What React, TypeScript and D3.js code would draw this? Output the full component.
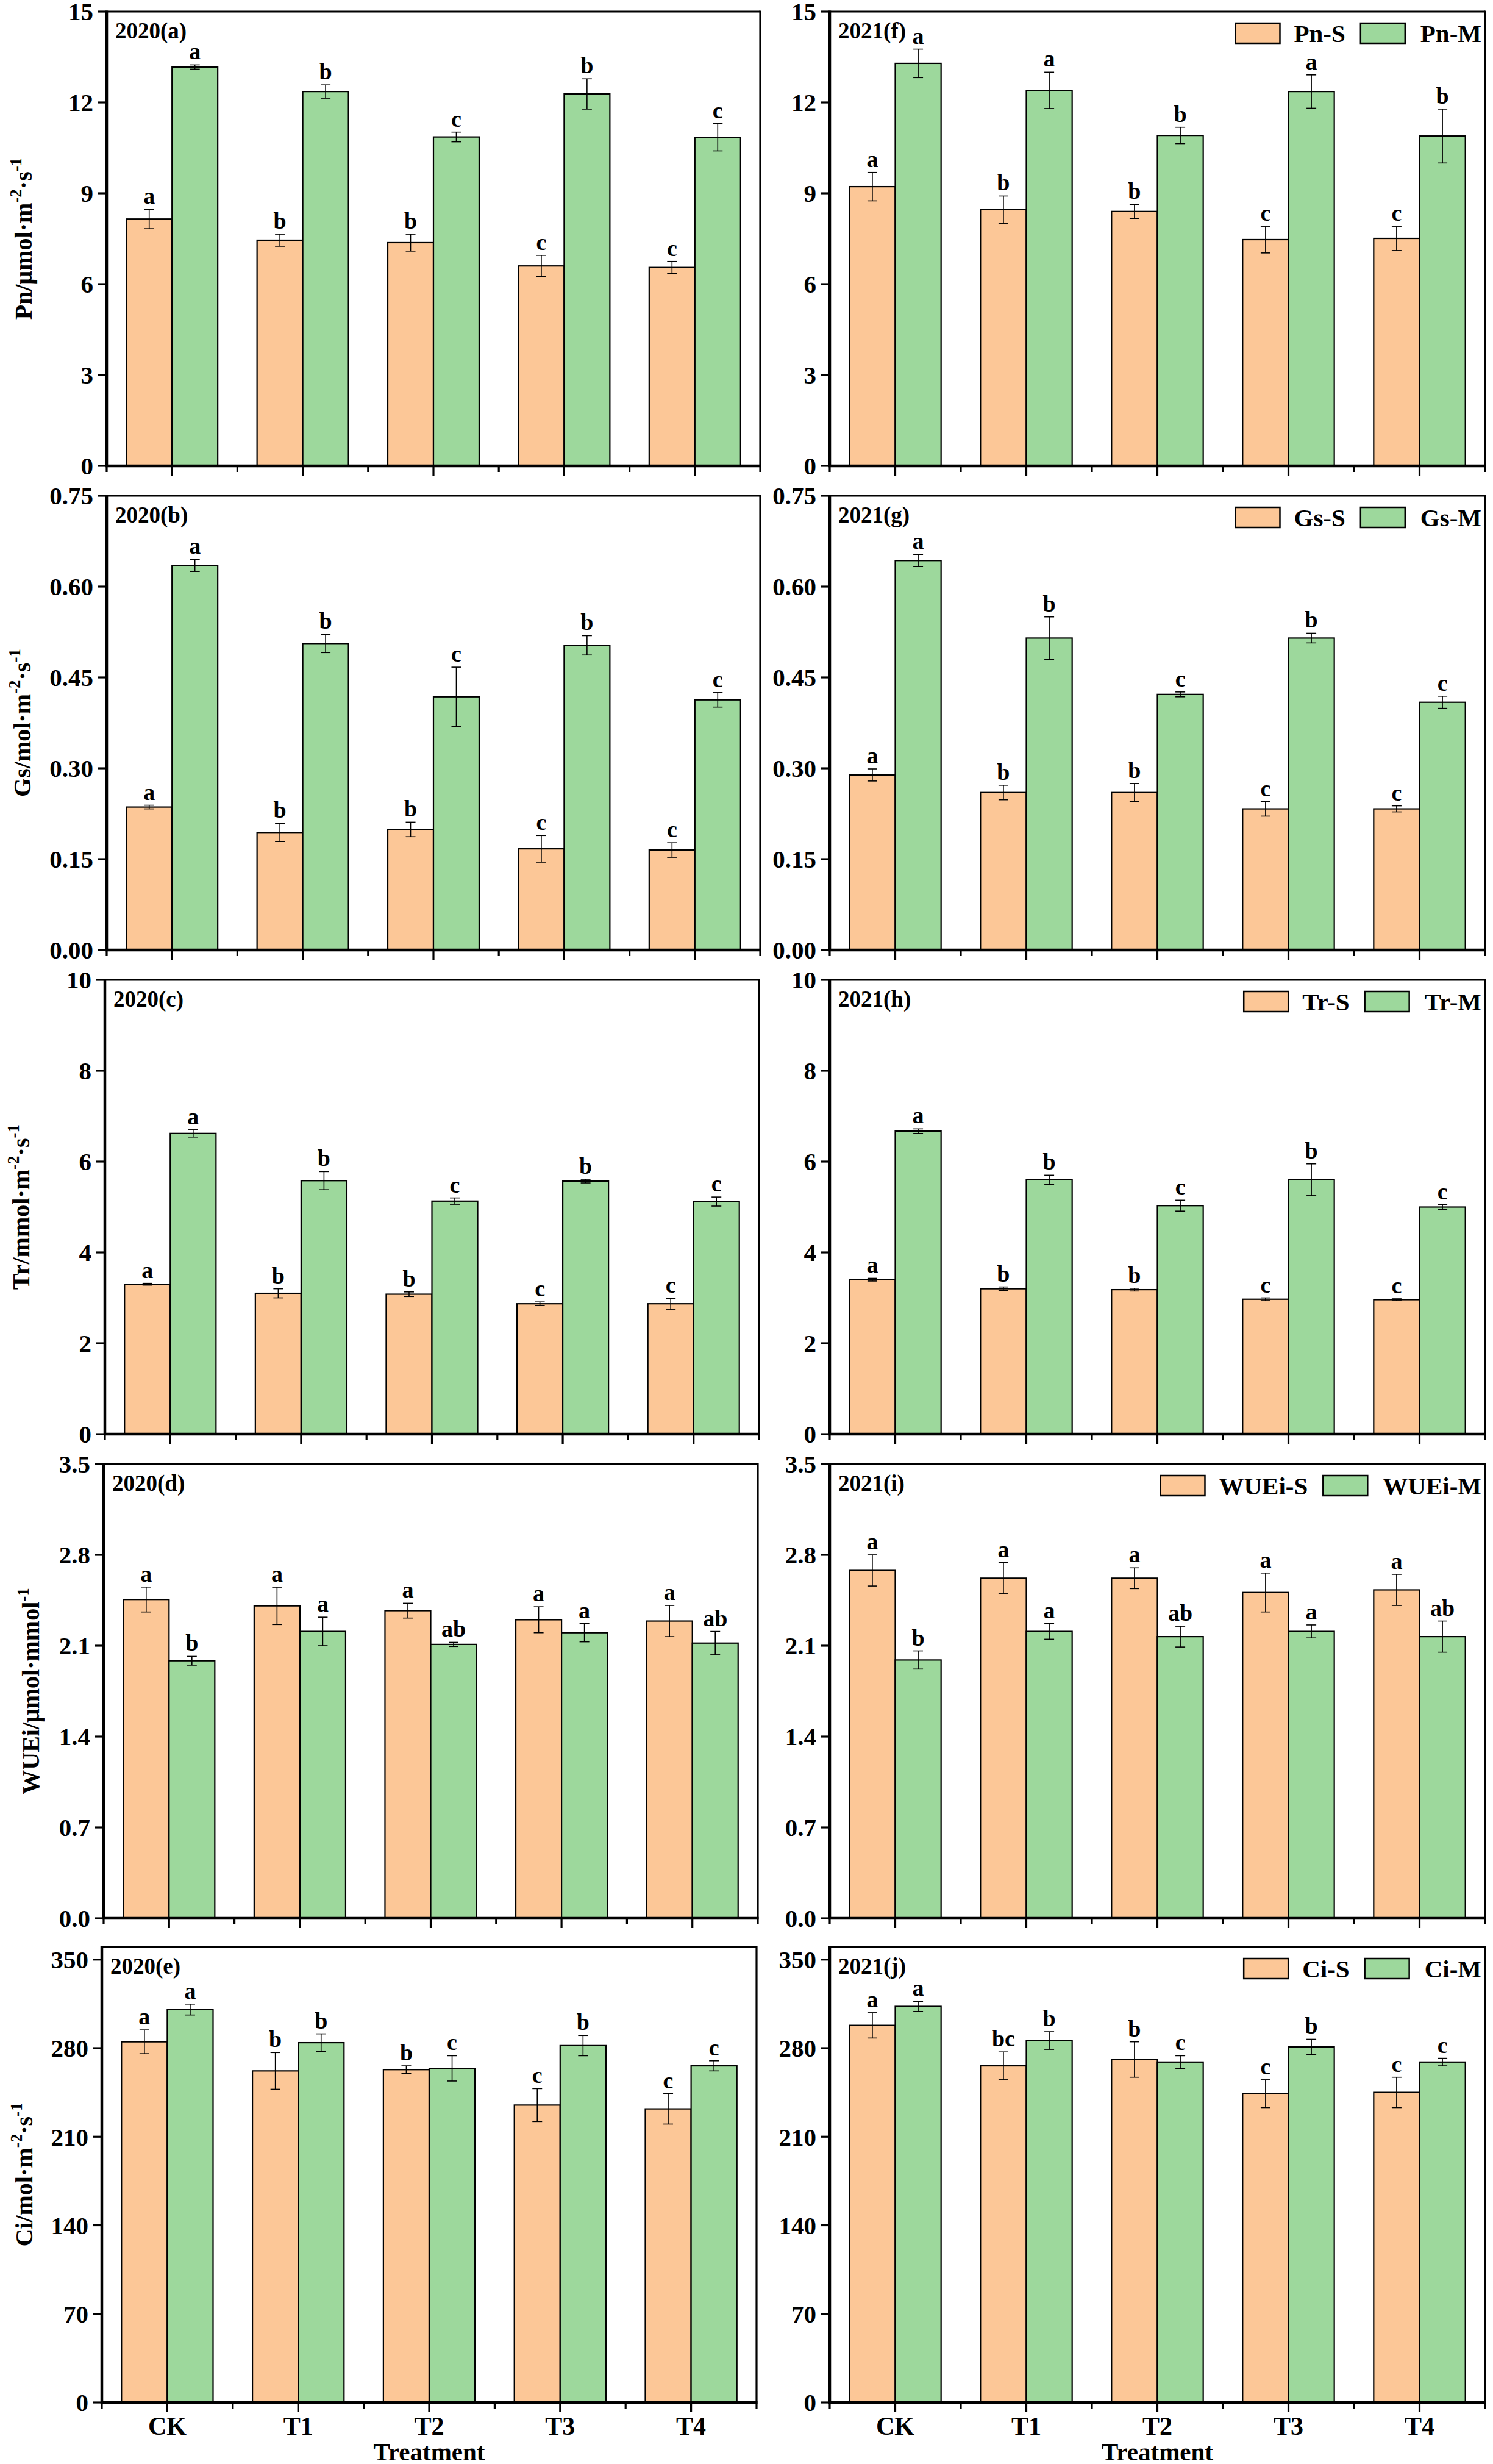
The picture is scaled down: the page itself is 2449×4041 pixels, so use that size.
import React, { useRef, useEffect } from "react"
import * as d3 from "d3"

const treatments = ["CK", "T1", "T2", "T3", "T4"]

// Pn (μmol·m-2·s-1)
const pn20S = [8.15, 7.45, 7.37, 6.6, 6.55]
const pn20SErr = [0.32, 0.2, 0.28, 0.35, 0.2]
const pn20M = [13.17, 12.36, 10.86, 12.28, 10.85]
const pn20MErr = [0.07, 0.22, 0.16, 0.5, 0.45]
const pn21S = [9.22, 8.46, 8.4, 7.47, 7.51]
const pn21SErr = [0.47, 0.45, 0.23, 0.44, 0.4]
const pn21M = [13.29, 12.4, 10.91, 12.36, 10.89]
const pn21MErr = [0.47, 0.6, 0.27, 0.55, 0.89]
const pn20SLet = ["a", "b", "b", "c", "c"]
const pn20MLet = ["a", "b", "c", "b", "c"]
const pn21SLet = ["a", "b", "b", "c", "c"]
const pn21MLet = ["a", "a", "b", "a", "b"]

// Gs (mol·m-2·s-1)
const gs20S = [0.236, 0.194, 0.199, 0.167, 0.165]
const gs20SErr = [0.003, 0.015, 0.012, 0.022, 0.012]
const gs20M = [0.635, 0.506, 0.418, 0.503, 0.413]
const gs20MErr = [0.01, 0.015, 0.049, 0.016, 0.012]
const gs21S = [0.289, 0.26, 0.26, 0.233, 0.233]
const gs21SErr = [0.01, 0.012, 0.015, 0.012, 0.005]
const gs21M = [0.643, 0.515, 0.422, 0.515, 0.409]
const gs21MErr = [0.01, 0.035, 0.004, 0.008, 0.01]
const gsSLet = ["a", "b", "b", "c", "c"]
const gsMLet = ["a", "b", "c", "b", "c"]

// Tr (mmol·m-2·s-1)
const tr20S = [3.3, 3.1, 3.08, 2.87, 2.87]
const tr20SErr = [0.02, 0.1, 0.05, 0.04, 0.12]
const tr20M = [6.62, 5.58, 5.13, 5.57, 5.12]
const tr20MErr = [0.08, 0.2, 0.07, 0.04, 0.1]
const tr21S = [3.4, 3.2, 3.18, 2.97, 2.96]
const tr21SErr = [0.03, 0.04, 0.03, 0.03, 0.02]
const tr21M = [6.67, 5.6, 5.03, 5.6, 5.0]
const tr21MErr = [0.05, 0.1, 0.12, 0.35, 0.05]
const trSLet = ["a", "b", "b", "c", "c"]
const trMLet = ["a", "b", "c", "b", "c"]

// WUEi (μmol·mmol-1)
const wue20S = [2.456, 2.407, 2.37, 2.3, 2.29]
const wue20SErr = [0.096, 0.144, 0.057, 0.1, 0.12]
const wue20M = [1.984, 2.21, 2.11, 2.2, 2.12]
const wue20MErr = [0.034, 0.11, 0.016, 0.07, 0.09]
const wue21S = [2.68, 2.62, 2.62, 2.51, 2.53]
const wue21SErr = [0.12, 0.12, 0.08, 0.15, 0.12]
const wue21M = [1.99, 2.21, 2.17, 2.21, 2.17]
const wue21MErr = [0.07, 0.06, 0.08, 0.05, 0.12]
const wueSLet = ["a", "a", "a", "a", "a"]
const wueMLet = ["b", "a", "ab", "a", "ab"]

// Ci
const ci20S = [285, 262, 263, 235, 232]
const ci20SErr = [9.4, 14.5, 3, 13, 12]
const ci20M = [310.5, 284.3, 264, 282, 266]
const ci20MErr = [4.3, 7, 10, 8, 4]
const ci21S = [298, 266, 271, 244, 245]
const ci21SErr = [10, 11, 14, 11, 12]
const ci21M = [313, 286, 269, 281, 269]
const ci21MErr = [4, 7, 5, 6, 3]
const ci20SLet = ["a", "b", "b", "c", "c"]
const ci21SLet = ["a", "bc", "b", "c", "c"]
const ciMLet = ["a", "b", "c", "b", "c"]

const pnTicks = [0, 3, 6, 9, 12, 15]
const gsTicks = [0, 0.15, 0.3, 0.45, 0.6, 0.75]
const trTicks = [0, 2, 4, 6, 8, 10]
const wueTicks = [0, 0.7, 1.4, 2.1, 2.8, 3.5]
const ciTicks = [0, 70, 140, 210, 280, 350]

const rowMax = [15, 0.75, 10, 3.5, 360]
const rowTicks = [pnTicks, gsTicks, trTicks, wueTicks, ciTicks]
const rowFmt = [d3.format("d"), d3.format(".2f"), d3.format("d"), d3.format(".1f"), d3.format("d")]
const rowTitle: [string, boolean][][] = [
  [["Pn/μmol·m", false], ["-2", true], ["·s", false], ["-1", true]],
  [["Gs/mol·m", false], ["-2", true], ["·s", false], ["-1", true]],
  [["Tr/mmol·m", false], ["-2", true], ["·s", false], ["-1", true]],
  [["WUEi/μmol·mmol", false], ["-1", true]],
  [["Ci/mol·m", false], ["-2", true], ["·s", false], ["-1", true]],
]
const rowLegend = [
  ["Pn-S", "Pn-M"],
  ["Gs-S", "Gs-M"],
  ["Tr-S", "Tr-M"],
  ["WUEi-S", "WUEi-M"],
  ["Ci-S", "Ci-M"],
]

type Panel = {
  row: number
  col: number
  label: string
  s: number[]
  sErr: number[]
  m: number[]
  mErr: number[]
  sLet: string[]
  mLet: string[]
}

const panels: Panel[] = [
  { row: 0, col: 0, label: "2020(a)", s: pn20S, sErr: pn20SErr, m: pn20M, mErr: pn20MErr, sLet: pn20SLet, mLet: pn20MLet },
  { row: 0, col: 1, label: "2021(f)", s: pn21S, sErr: pn21SErr, m: pn21M, mErr: pn21MErr, sLet: pn21SLet, mLet: pn21MLet },
  { row: 1, col: 0, label: "2020(b)", s: gs20S, sErr: gs20SErr, m: gs20M, mErr: gs20MErr, sLet: gsSLet, mLet: gsMLet },
  { row: 1, col: 1, label: "2021(g)", s: gs21S, sErr: gs21SErr, m: gs21M, mErr: gs21MErr, sLet: gsSLet, mLet: gsMLet },
  { row: 2, col: 0, label: "2020(c)", s: tr20S, sErr: tr20SErr, m: tr20M, mErr: tr20MErr, sLet: trSLet, mLet: trMLet },
  { row: 2, col: 1, label: "2021(h)", s: tr21S, sErr: tr21SErr, m: tr21M, mErr: tr21MErr, sLet: trSLet, mLet: trMLet },
  { row: 3, col: 0, label: "2020(d)", s: wue20S, sErr: wue20SErr, m: wue20M, mErr: wue20MErr, sLet: wueSLet, mLet: wueMLet },
  { row: 3, col: 1, label: "2021(i)", s: wue21S, sErr: wue21SErr, m: wue21M, mErr: wue21MErr, sLet: wueSLet, mLet: wueMLet },
  { row: 4, col: 0, label: "2020(e)", s: ci20S, sErr: ci20SErr, m: ci20M, mErr: ci20MErr, sLet: ci20SLet, mLet: ciMLet },
  { row: 4, col: 1, label: "2021(j)", s: ci21S, sErr: ci21SErr, m: ci21M, mErr: ci21MErr, sLet: ci21SLet, mLet: ciMLet },
]

const W = 2449
const H = 4041
const FONT = "'Liberation Serif', 'Times New Roman', serif"
const ORANGE = "#FCC797"
const GREEN = "#9DD89C"

// layout per row / column
const rowTop = [19, 813, 1607, 2401, 3193]
const rowBottom = [764, 1558, 2352, 3146, 3940]
const leftX0 = [175, 175, 172, 170, 167]
const leftX1 = [1247, 1247, 1245, 1243, 1241]
const rightX0 = [1361, 1361, 1361, 1361, 1361]
const rightX1 = [2436, 2436, 2436, 2436, 2436]
const titleX = [52, 50, 48, 64, 53]

const App: React.FC = () => {
  const svgRef = useRef<SVGSVGElement>(null)

  useEffect(() => {
    if (!svgRef.current) return
    const svg = d3.select(svgRef.current)
    svg.selectAll("*").remove()
    svg.append("rect").attr("width", W).attr("height", H).attr("fill", "white")

    panels.forEach((p) => {
      const r = p.row
      const x0 = p.col === 0 ? leftX0[r] : rightX0[r]
      const x1 = p.col === 0 ? leftX1[r] : rightX1[r]
      const top = rowTop[r]
      const bottom = rowBottom[r]

      const x = d3.scaleBand().domain(treatments).range([x0, x1]).padding(0)
      const sub = d3
        .scaleBand()
        .domain(["S", "M"])
        .range([0, x.bandwidth()])
        .paddingInner(0)
        .paddingOuter(0.43)
      const y = d3.scaleLinear().domain([0, rowMax[r]]).range([bottom, top])

      const g = svg.append("g")

      const series = [
        { key: "S", v: p.s, e: p.sErr, l: p.sLet, color: ORANGE },
        { key: "M", v: p.m, e: p.mErr, l: p.mLet, color: GREEN },
      ]

      series.forEach((s) => {
        treatments.forEach((t, i) => {
          const bx = x(t)! + sub(s.key)!
          const bw = sub.bandwidth()
          const cx = bx + bw / 2
          g.append("rect")
            .attr("x", bx)
            .attr("y", y(s.v[i]))
            .attr("width", bw)
            .attr("height", y(0) - y(s.v[i]))
            .attr("fill", s.color)
            .attr("stroke", "#000")
            .attr("stroke-width", 2.2)
          const yHi = y(s.v[i] + s.e[i])
          const yLo = y(s.v[i] - s.e[i])
          g.append("line")
            .attr("x1", cx).attr("x2", cx)
            .attr("y1", yHi).attr("y2", yLo)
            .attr("stroke", "#000").attr("stroke-width", 1.6)
          ;[yHi, yLo].forEach((yy) => {
            g.append("line")
              .attr("x1", cx - 8).attr("x2", cx + 8)
              .attr("y1", yy).attr("y2", yy)
              .attr("stroke", "#000").attr("stroke-width", 1.6)
          })
          g.append("text")
            .attr("x", cx)
            .attr("y", yHi - 9)
            .attr("text-anchor", "middle")
            .attr("font-family", FONT)
            .attr("font-weight", "bold")
            .attr("font-size", 38)
            .text(s.l[i])
        })
      })

      // frame
      g.append("line").attr("x1", x0).attr("x2", x1).attr("y1", top).attr("y2", top)
        .attr("stroke", "#000").attr("stroke-width", 3.2)
      g.append("line").attr("x1", x1).attr("x2", x1).attr("y1", top - 1.5).attr("y2", bottom)
        .attr("stroke", "#000").attr("stroke-width", 3.2)
      g.append("line").attr("x1", x0).attr("x2", x0).attr("y1", top - 1.5).attr("y2", bottom + 2)
        .attr("stroke", "#000").attr("stroke-width", 4.5)
      g.append("line").attr("x1", x0 - 2).attr("x2", x1 + 1.5).attr("y1", bottom).attr("y2", bottom)
        .attr("stroke", "#000").attr("stroke-width", 4.5)

      // y ticks
      rowTicks[r].forEach((tv) => {
        const yy = y(tv)
        g.append("line").attr("x1", x0 - 14).attr("x2", x0).attr("y1", yy).attr("y2", yy)
          .attr("stroke", "#000").attr("stroke-width", 3.2)
        g.append("text")
          .attr("x", x0 - 22)
          .attr("y", yy)
          .attr("dy", "0.35em")
          .attr("text-anchor", "end")
          .attr("font-family", FONT)
          .attr("font-weight", "bold")
          .attr("font-size", 41)
          .text(rowFmt[r](tv))
      })

      // x ticks: minor at band edges, major at centers
      const edges = treatments.map((t) => x(t)!).concat([x1])
      edges.forEach((ex) => {
        g.append("line").attr("x1", ex).attr("x2", ex).attr("y1", bottom).attr("y2", bottom + 10)
          .attr("stroke", "#000").attr("stroke-width", 3.2)
      })
      treatments.forEach((t) => {
        const cx = x(t)! + x.bandwidth() / 2
        g.append("line").attr("x1", cx).attr("x2", cx).attr("y1", bottom).attr("y2", bottom + 16)
          .attr("stroke", "#000").attr("stroke-width", 3.2)
        if (r === 4) {
          g.append("text")
            .attr("x", cx)
            .attr("y", 3993)
            .attr("text-anchor", "middle")
            .attr("font-family", FONT)
            .attr("font-weight", "bold")
            .attr("font-size", 42)
            .text(t)
        }
      })
      if (r === 4) {
        g.append("text")
          .attr("x", (x0 + x1) / 2)
          .attr("y", 4035)
          .attr("text-anchor", "middle")
          .attr("font-family", FONT)
          .attr("font-weight", "bold")
          .attr("font-size", 41)
          .text("Treatment")
      }

      // panel label
      g.append("text")
        .attr("x", x0 + 14)
        .attr("y", top + 44)
        .attr("font-family", FONT)
        .attr("font-weight", "bold")
        .attr("font-size", 37)
        .text(p.label)

      // y title (left column only)
      if (p.col === 0) {
        const cy = (top + bottom) / 2
        const tt = g.append("text")
          .attr("transform", `translate(${titleX[r]},${cy}) rotate(-90)`)
          .attr("text-anchor", "middle")
          .attr("font-family", FONT)
          .attr("font-weight", "bold")
          .attr("font-size", 40)
        let shifted = false
        rowTitle[r].forEach(([txt, sup]) => {
          const ts = tt.append("tspan").text(txt)
          if (sup && !shifted) {
            ts.attr("font-size", 27).attr("dy", -17)
            shifted = true
          } else if (!sup && shifted) {
            ts.attr("dy", 17)
            shifted = false
          } else if (sup) {
            ts.attr("font-size", 27)
          }
        })
      }

      // legend (right column only)
      if (p.col === 1) {
        const [ls, lm] = rowLegend[r]
        const sy = top + 19
        const sh = 33
        const sw = 73
        const mkText = (txt: string) =>
          g.append("text")
            .attr("y", sy + sh / 2)
            .attr("dy", "0.36em")
            .attr("text-anchor", "start")
            .attr("font-family", FONT)
            .attr("font-weight", "bold")
            .attr("font-size", 41)
            .text(txt)
        const tM = mkText(lm)
        const wM = (tM.node() as SVGTextElement).getComputedTextLength()
        const tMx = x1 - 6 - wM
        tM.attr("x", tMx)
        const gSx = tMx - 25 - sw
        g.append("rect").attr("x", gSx).attr("y", sy).attr("width", sw).attr("height", sh)
          .attr("fill", GREEN).attr("stroke", "#000").attr("stroke-width", 2.5)
        const tS = mkText(ls)
        const wS = (tS.node() as SVGTextElement).getComputedTextLength()
        const tSx = gSx - 25 - wS
        tS.attr("x", tSx)
        g.append("rect").attr("x", tSx - 23 - sw).attr("y", sy).attr("width", sw).attr("height", sh)
          .attr("fill", ORANGE).attr("stroke", "#000").attr("stroke-width", 2.5)
      }
    })
  }, [])

  return (
    <svg
      ref={svgRef}
      width={W}
      height={H}
      style={{ position: "absolute", left: 0, top: 0, display: "block" }}
    />
  )
}

export default App
